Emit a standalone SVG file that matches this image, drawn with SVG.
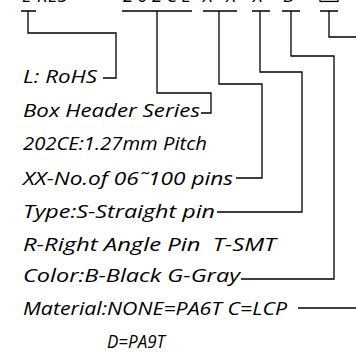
<svg xmlns="http://www.w3.org/2000/svg" width="356" height="352" viewBox="0 0 356 352">
<style>
text{font-family:"Open Sans","DejaVu Sans",sans-serif;font-style:italic;font-weight:400;font-size:18.5px;fill:#000;white-space:pre}
.c{fill:none;stroke:#000;stroke-width:1.3}
</style>
<rect width="356" height="352" fill="#fff"/>
<g id="part-number">
<text y="1.5" lengthAdjust="spacingAndGlyphs"><tspan x="22">L</tspan><tspan x="37" textLength="30">KLS</tspan><tspan x="123" textLength="68">202CE</tspan><tspan x="203" textLength="33">XX</tspan><tspan x="253">X</tspan><tspan x="283">B</tspan></text>
<rect x="320" y="-10" width="18" height="11.5" fill="#ddd" stroke="#000" stroke-width="1.2"/>
</g>
<g id="connectors">
<path class="c" d="M21,11H36M28,11V33H116V78H103"/>
<path class="c" d="M122,11H192M157,11V93H211V113H201"/>
<path class="c" d="M203,11H237M219,11V84H262V178H236"/>
<path class="c" d="M252,11H270M260,11V72H302V212H217"/>
<path class="c" d="M282,11H300M291,11V56H334V279H241"/>
<path class="c" d="M320,11H338M329,11V37H356"/>
<path class="c" d="M298,308H356"/>
</g>
<g id="rohs"><text x="23" y="83" textLength="74" lengthAdjust="spacingAndGlyphs">L: RoHS</text></g>
<g id="series"><text x="23" y="117" textLength="177" lengthAdjust="spacingAndGlyphs">Box Header Series</text></g>
<g id="pitch"><text x="23" y="150" textLength="184" lengthAdjust="spacingAndGlyphs">202CE:1.27mm Pitch</text></g>
<g id="pins"><text x="23" y="185" textLength="210" lengthAdjust="spacingAndGlyphs">XX-No.of 06˜100 pins</text></g>
<g id="type"><text x="23" y="218" textLength="192" lengthAdjust="spacingAndGlyphs">Type:S-Straight pin</text></g>
<g id="type2"><text x="23" y="251" textLength="253" lengthAdjust="spacingAndGlyphs">R-Right Angle Pin  T-SMT</text></g>
<g id="color"><text x="23" y="282" textLength="217" lengthAdjust="spacingAndGlyphs">Color:B-Black G-Gray</text></g>
<g id="material"><text x="23" y="315" textLength="264" lengthAdjust="spacingAndGlyphs">Material:NONE=PA6T C=LCP</text></g>
<g id="material2"><text x="107" y="348" textLength="58" lengthAdjust="spacingAndGlyphs">D=PA9T</text></g>
</svg>
